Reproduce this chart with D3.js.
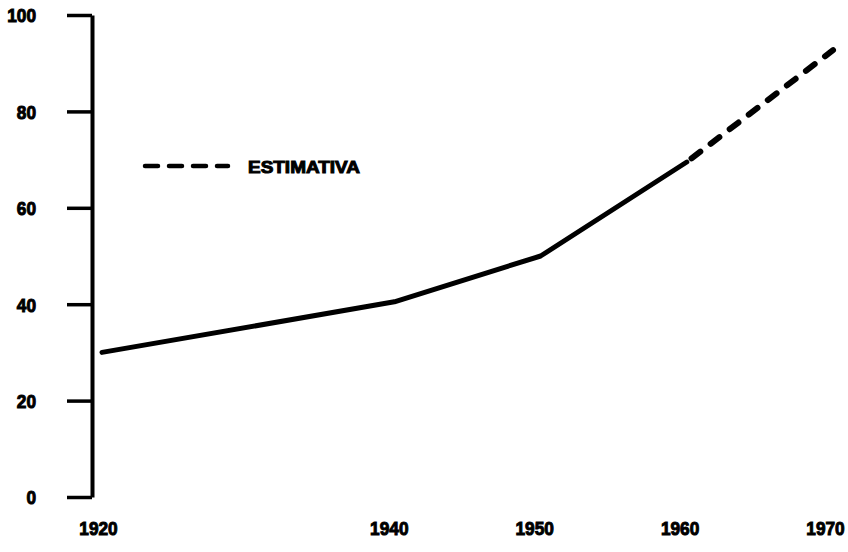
<!DOCTYPE html>
<html>
<head>
<meta charset="utf-8">
<script src="https://cdn.jsdelivr.net/npm/d3@7"></script>
<style>
  body { margin: 0; background: #fff; }
  svg text { font-family: "Liberation Sans", Arial, sans-serif; font-weight: bold; fill: #000; stroke: #000; stroke-width: 1px; }
</style>
</head>
<body>
<svg id="chart"></svg>
<script>
// values
const years = [1920, 1940, 1950, 1960]
const values = [30, 40.5, 50, 69.5]
const estYears = [1960, 1970]
const estValues = [69.5, 92.7]
const xTicks = [1920, 1940, 1950, 1960, 1970]
const yTicks = [0, 20, 40, 60, 80, 100]
const legendLabel = "ESTIMATIVA"

const width = 848, height = 552
const digitW = 9.6 // the scan uses a narrow face, so squeeze glyphs to this width

const svg = d3.select("#chart")
    .attr("width", width)
    .attr("height", height)

const x = d3.scaleLinear().domain([1920, 1970]).range([102, 833])
const y = d3.scaleLinear().domain([0, 100]).range([497, 15])
// year labels sit a little left of the plotted points in the scan
const xLabel = x.copy().range([98, 825])

function squeeze(sel) {
    sel.attr("textLength", function() { return this.textContent.length * digitW })
        .attr("lengthAdjust", "spacingAndGlyphs")
}

// y axis: long ticks on the left, no outer ticks
const yAxis = svg.append("g")
    .attr("transform", "translate(92,0)")
    .call(d3.axisLeft(y).tickValues(yTicks).tickSize(25).tickSizeOuter(0).tickPadding(31))

yAxis.select(".domain")
    .attr("stroke", "#000")
    .attr("stroke-width", 4)
yAxis.selectAll(".tick line")
    .attr("stroke", "#000")
    .attr("stroke-width", 3.5)
yAxis.selectAll(".tick text")
    .style("font-size", "19px")
    .attr("dy", "0.36em")
    .call(squeeze)

// x axis: labels only, no line
const xAxis = svg.append("g")
    .attr("transform", "translate(0,517)")
    .call(d3.axisBottom(xLabel).tickValues(xTicks).tickFormat(d3.format("d")).tickSize(0).tickPadding(0))

xAxis.select(".domain").remove()
xAxis.selectAll(".tick text")
    .style("font-size", "19px")
    .attr("dy", "0.95em")
    .call(squeeze)

const line = d3.line()
    .x(d => x(d[0]))
    .y(d => y(d[1]))

svg.append("path")
    .datum(d3.zip(years, values))
    .attr("d", line)
    .attr("fill", "none")
    .attr("stroke", "#000")
    .attr("stroke-width", 5)
    .attr("stroke-linejoin", "round")
    .attr("stroke-linecap", "round")

svg.append("path")
    .datum(d3.zip(estYears, estValues))
    .attr("d", line)
    .attr("fill", "none")
    .attr("stroke", "#000")
    .attr("stroke-width", 6)
    .attr("stroke-linecap", "round")
    .attr("stroke-dasharray", "11,13")
    .attr("stroke-dashoffset", -6)

// legend
const legend = svg.append("g").attr("transform", "translate(142,166)")

legend.append("line")
    .attr("x1", 3).attr("x2", 86)
    .attr("stroke", "#000")
    .attr("stroke-width", 4.5)
    .attr("stroke-linecap", "round")
    .attr("stroke-dasharray", "13,11")

legend.append("text")
    .attr("x", 106)
    .attr("y", 7)
    .attr("textLength", 112)
    .attr("lengthAdjust", "spacingAndGlyphs")
    .style("font-size", "17px")
    .text(legendLabel)
</script>
</body>
</html>
